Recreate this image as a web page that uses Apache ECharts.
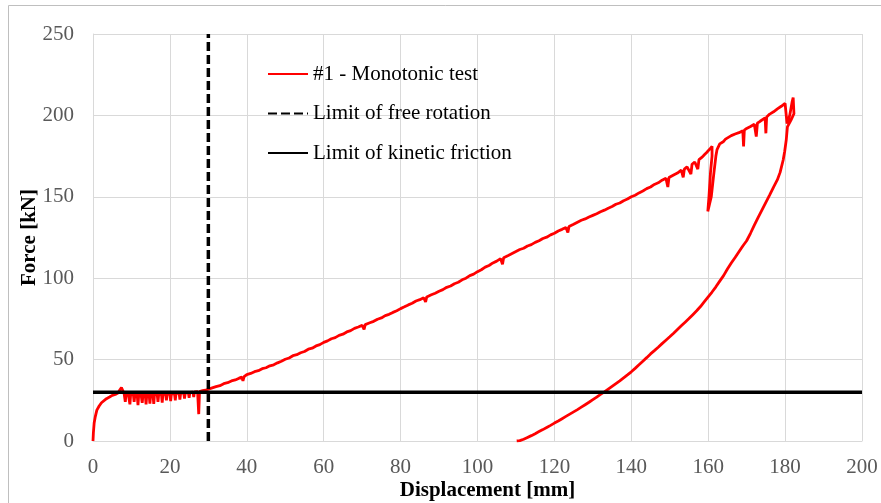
<!DOCTYPE html>
<html>
<head>
<meta charset="utf-8">
<script src="https://cdn.jsdelivr.net/npm/echarts@6/dist/echarts.min.js"></script>
<style>
html,body{margin:0;padding:0;background:#fff;}
#chart{width:881px;height:503px;}
</style>
</head>
<body>
<div id="chart"></div>
<script>
// Displacement [mm] and Force [kN] of test #1
const dispX = [
0,0.1,0.3,0.6,1,1.6,2.2,2.7,3.5,4.3,5,5.8,6.5,7,7.4,7.8,8.1,8.4,8.6,9.2,9.6,9.8,
10.5,10.7,10.9,11.5,11.7,11.9,12.5,12.8,13,13.6,13.8,14,14.6,14.8,15,15.6,15.8,16,
16.7,16.9,17.1,17.8,18,18.2,18.9,19.1,19.3,20,20.2,20.4,21.2,21.4,21.6,22.4,22.6,22.8,
23.6,23.8,24,24.8,25,25.2,26,26.2,26.4,27.2,27.5,27.7,28.5,29.3,30,31,32,33,34,35,36,37,38,
38.7,39,39.3,40,41,42,43,44,45,46,47,48,49,50,51,52,53,54,55,56,57,58,59,60,61,62,63,64,65,
66,67,68,69,70,70.5,70.8,72,73,74,75,76,77,78,79,80,81,82,83,84,85,86,86.5,86.8,88,89,90,
91,92,93,94,95,96,97,98,99,100,101,102,103,104,105,106,106.5,106.8,108,109,110,111,112,113,
114,115,116,117,118,119,120,121,122,123,123.5,123.8,125,126,127,128,129,130,131,132,133,134,
135,136,137,138,139,140,141,142,143,144,145,146,147,148,149,149.5,149.8,151,152,153,153.5,
153.8,154.5,155,155.5,155.8,156.5,157,157.3,157.6,158.5,159,159.6,160,160.5,161,161.3,
161,160.6,160.2,159.9,160.2,160.8,161.5,162,162.3,
163,164,164.5,165,166,167,168,169,169.2,169.4,170,171,172,172.5,172.8,173.5,174,174.8,175,
175.2,176,177,178,179,180,180.4,180.5,180.7,181.2,181.8,182.1,182.3,181.5,180.6,180.3,179.9,
179.5,178.7,178,177,176,175,174,173,172,171,170,169,168.3,167,166,165,164,163,162,161,160,
159,158,157,156,155,154,153,152,151,150,149,148,147,146,145,144,143,142,141,140,139,138,137,
136,135,134,133,132,131,130,129,128,127,126,125,124,123,122,121,120,119,118,117,116,115,114,
113,112,111,110.2
];
const force = [
0,5,11,15,19,21.5,23.5,24.5,26,27,28,28.6,29.5,31.5,32.8,32,29,24,29,28.6,22.5,28.8,
28.4,24,28.7,28.3,22,28.5,28.6,23.5,28.4,28.2,22.5,28.6,28.3,23,28.5,28.4,22.8,28.6,
28.5,24,28.8,28.6,23.5,28.9,28.7,25,29,28.8,24.5,29.1,28.9,25,29.2,29.3,25.5,29.4,
29.5,26,29.6,29.7,26.5,29.8,30,27,30.2,30.3,16.5,30.4,30.9,31.2,31.8,32.6,33.4,34,35.2,35.8,36.9,37.5,38.6,
39.2,37,39.5,40.8,41.5,42.6,43.2,44.4,45,46.2,46.8,48,49,50.2,51,52.4,53,54.2,55,56.4,57,58.4,59.2,60.6,61.5,62.8,63.5,64.9,65.6,
67,67.8,69.2,70,71,68.5,71.5,72.6,73.5,74.8,75.6,77,77.8,79,80,81.3,82.4,83.6,84.6,86,86.8,88,85.5,88.5,89.8,90.8,92,
93,94.4,95.2,96.6,97.5,99,100,101.6,102.5,104,105.2,106.8,107.8,109.4,110.5,112,108.5,112.6,114,115.2,116.4,117.6,118.4,119.8,
120.6,122,123,124.4,125.2,126.6,127.6,129,130,131.2,128,131.8,133.2,134.4,135.6,136.4,137.6,138.6,139.6,140.8,141.8,143,
144,145.4,146.2,147.6,148.6,150,151,152.4,153.6,155,156,157.6,158.6,160.2,161.4,156,161.8,163.4,164.6,166.4,162,
167,168.4,169.4,164,170,171.4,172,167,172.8,174.5,175.8,177.2,178.2,179.6,181,180,
175,165,150,141,140.5,150,165,175,179,
182.5,184,185.4,186.2,187.6,188.6,189.4,190.6,181,191,192,193.2,194.6,187,195.2,196.4,197.2,198.5,189,
199,200.8,202.2,204,205.6,207.4,208.6,195,196,200,208,211,201,197,193,185,178,
172.6,165,160.5,156,151.2,146.6,142,137.4,132.6,127.6,123,119.8,117.3,112.7,109.3,105.6,101.6,98.2,94.7,91.5,88.6,
85.6,82.6,80,77.6,75.2,73,70.8,68.5,66.2,64,61.9,59.8,57.6,55.5,53.5,51.2,49,46.8,44.6,42.5,40.6,38.8,37,
35.3,33.6,31.9,30.2,28.6,27,25.4,23.8,22.3,20.8,19.3,17.9,16.5,15.1,13.7,12.3,11,9.6,8.3,7,5.8,4.5,3.3,
2.2,1.1,0.2,0
];
const rotationLimitX = [30, 30];
const rotationLimitY = [0, 250];
const frictionLimitX = [0, 200];
const frictionLimitY = [30, 30];
const xTicks = {min: 0, max: 200, interval: 20};
const yTicks = {min: 0, max: 250, interval: 50};
const seriesNames = ['#1 - Monotonic test', 'Limit of free rotation', 'Limit of kinetic friction'];

const zip = (a, b) => a.map((v, i) => [v, b[i]]);
const FONT = '"Liberation Serif", "Times New Roman", serif';
const chart = echarts.init(document.getElementById('chart'), null, {renderer: 'canvas'});
chart.setOption({
  animation: false,
  backgroundColor: '#fff',
  graphic: [{
    type: 'rect', shape: {x: 8.5, y: 5.5, width: 1000, height: 700},
    style: {fill: 'none', stroke: '#bfbfbf', lineWidth: 1}, silent: true, z: -10
  }],
  grid: {left: 93, right: 19, top: 34, bottom: 62, containLabel: false, outerBoundsMode: 'none'},
  legend: {
    orient: 'vertical', left: 267, top: 63, padding: 0, itemWidth: 40, itemHeight: 14, itemGap: 17.5,
    itemStyle: {opacity: 0},
    textStyle: {fontFamily: FONT, fontSize: 21, color: '#000', lineHeight: 22},
    data: seriesNames
  },
  xAxis: {
    type: 'value', min: xTicks.min, max: xTicks.max, interval: xTicks.interval,
    name: 'Displacement [mm]', nameLocation: 'middle', nameGap: 39, nameMoveOverlap: false,
    nameTextStyle: {fontFamily: FONT, fontSize: 21, fontWeight: 'bold', color: '#000', padding: [0, 0, 0, 20]},
    axisLine: {show: true, lineStyle: {color: '#d9d9d9', width: 1}},
    axisTick: {show: false},
    splitLine: {show: true, lineStyle: {color: '#d9d9d9', width: 1}},
    axisLabel: {fontFamily: FONT, fontSize: 21, color: '#595959', margin: 16}
  },
  yAxis: {
    type: 'value', min: yTicks.min, max: yTicks.max, interval: yTicks.interval,
    name: 'Force [kN]', nameLocation: 'middle', nameGap: 53, nameRotate: 90, nameMoveOverlap: false,
    nameTextStyle: {fontFamily: FONT, fontSize: 21, fontWeight: 'bold', color: '#000'},
    axisLine: {show: true, lineStyle: {color: '#d9d9d9', width: 1}},
    axisTick: {show: false},
    splitLine: {show: true, lineStyle: {color: '#d9d9d9', width: 1}},
    axisLabel: {fontFamily: FONT, fontSize: 21, color: '#595959', margin: 19}
  },
  series: [
    {name: seriesNames[0], type: 'line', data: zip(dispX, force), showSymbol: false, symbol: 'none',
     lineStyle: {color: '#ff0000', width: 2.8}, itemStyle: {color: '#ff0000'}, z: 2},
    {name: seriesNames[1], type: 'line', data: zip(rotationLimitX, rotationLimitY), showSymbol: false, symbol: 'none',
     lineStyle: {color: '#000', width: 3.5, type: [9, 4]}, itemStyle: {color: '#000'}, z: 3},
    {name: seriesNames[2], type: 'line', data: zip(frictionLimitX, frictionLimitY), showSymbol: false, symbol: 'none',
     lineStyle: {color: '#000', width: 3.5}, itemStyle: {color: '#000'}, z: 3}
  ]
});
</script>
</body>
</html>
